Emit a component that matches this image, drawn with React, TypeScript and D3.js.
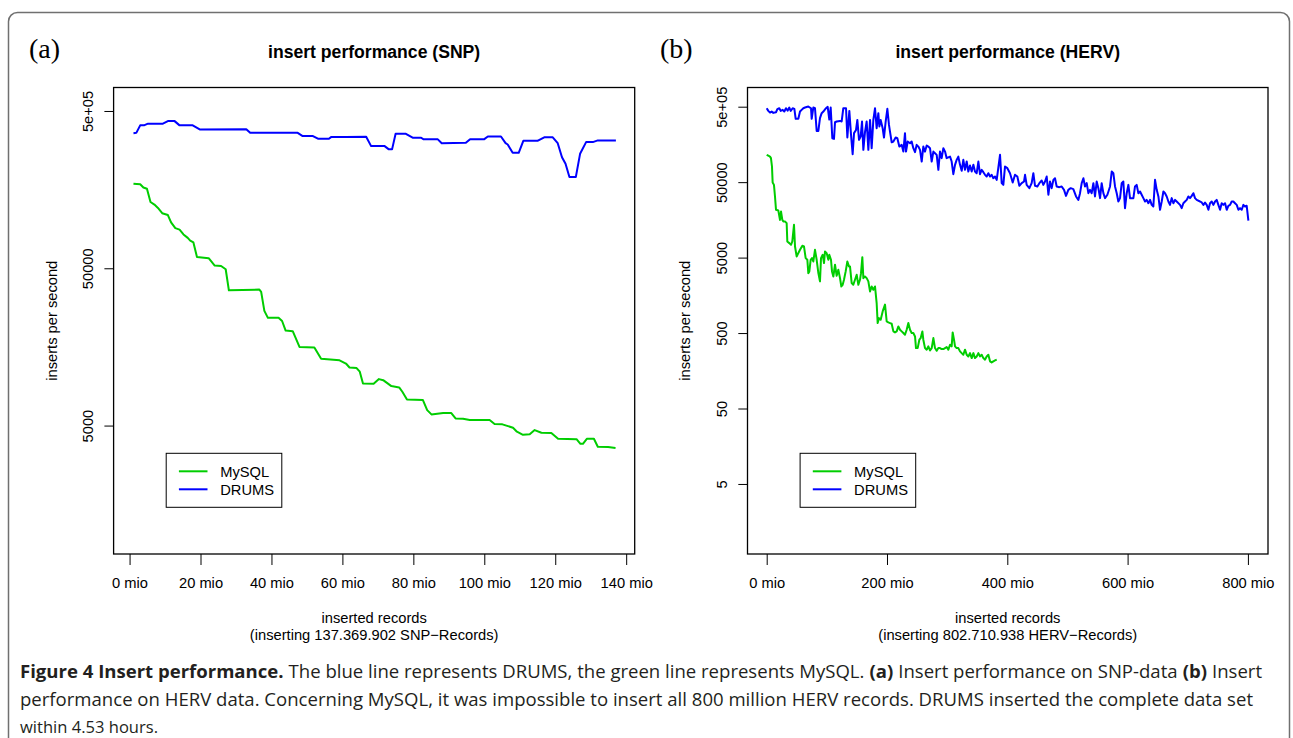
import * as React from "react";
import * as d3 from "d3";

// ---- data ----
const seriesNames = ["MySQL", "DRUMS"];
const seriesColors = ["#00cd00", "#0000ff"];

const snpTicksX = [0, 20, 40, 60, 80, 100, 120, 140];
const hervTicksX = [0, 200, 400, 600, 800];
const snpTicksY = [5000, 50000, 500000];
const hervTicksY = [5, 50, 500, 5000, 50000, 500000];

// [million records inserted, inserts per second]
const snpMysql: [number, number][] = [
  [1.1, 172500], [3, 171000], [3.9, 163000], [4.9, 160000], [5.9, 132000], [7, 127000],
  [8, 121000], [9.2, 112000], [10.8, 109000], [11.7, 98000], [12.9, 90000], [14.1, 88000],
  [15.2, 82000], [16.4, 78000], [17.1, 75000], [18, 73000], [19, 59000], [22.3, 58000],
  [24, 52000], [25.8, 51700], [27.1, 49300], [28, 36200], [36.6, 36600], [37.1, 35400],
  [38, 26800], [39, 24200], [42, 24200], [43, 23100], [44, 20100], [46, 19900],
  [47.9, 15800], [52.1, 15700], [54, 13300], [59.2, 13000], [61, 12400], [62, 11700],
  [64, 11600], [64.9, 11000], [65.8, 9270], [68.8, 9210], [70.3, 9870], [71.5, 9720],
  [73.8, 8910], [76, 8740], [76.9, 8200], [78.2, 7330], [82.7, 7260], [83.9, 6270],
  [85.1, 5890], [88.4, 6000], [90.7, 6000], [91.9, 5550], [94, 5520], [95.9, 5420],
  [101.5, 5420], [102.9, 5110], [105.1, 5090], [108.1, 4840], [109.2, 4570], [110.9, 4370],
  [112.8, 4400], [114.2, 4680], [116.1, 4500], [118.9, 4480], [120.8, 4120], [126, 4100],
  [127.1, 3830], [127.8, 3830], [128.9, 4120], [130.9, 4120], [132, 3670], [134.9, 3650],
  [137, 3600],
];

const snpDrums: [number, number][] = [
  [1.1, 361000], [1.9, 363000], [3, 405000], [4.2, 406000], [5.2, 415000], [9.4, 415000],
  [10.8, 431000], [12.7, 431000], [14.1, 405000], [17.8, 405000], [19.9, 381000], [32.9, 383000],
  [34, 363000], [47.4, 363000], [48.8, 346000], [51.7, 346000], [53.1, 333000], [56.2, 333000],
  [56.8, 341000], [61, 341000], [66.7, 343000], [68.1, 299000], [71.9, 299000], [73.1, 285000],
  [74, 285000], [75, 358000], [77.9, 358000], [79.8, 338000], [82.2, 338000], [82.9, 330000],
  [86.9, 330000], [88, 312000], [94.8, 314000], [96, 331000], [100, 331000], [101, 344000],
  [104.7, 344000], [106, 312000], [106.6, 306000], [108, 271000], [109.7, 271000], [111, 323000],
  [115, 323000], [116.9, 340000], [119.3, 340000], [120.7, 312000], [121.9, 254000], [122.9, 231000],
  [124, 190000], [125.8, 190000], [127, 267000], [128.7, 317000], [130.6, 317000], [132, 325000],
  [137.1, 325000],
];

const hervMysql: [number, number][] = [
  [0, 115000], [2.7, 112000], [5.5, 109000], [7.1, 104000], [8.8, 80600], [9.9, 49400],
  [12.1, 46000], [13.8, 32300], [15.5, 21500], [19.3, 21100], [22.1, 15800], [23.8, 20400],
  [26, 15800], [27.7, 15100], [30.4, 15100], [33.2, 14300], [34.3, 8180], [37.6, 7780],
  [40.4, 7390], [42.6, 8180], [45.4, 13600], [47.1, 7020], [49.8, 5180], [55.4, 6340],
  [59.3, 7170], [62, 7020], [64.8, 4920], [67.6, 4680], [69.2, 3110], [70.9, 3280],
  [73.1, 4680], [75.3, 4920], [77.5, 4440], [80.3, 6340], [83.1, 4680], [85.9, 3110],
  [88.6, 2420], [90.3, 4920], [93.1, 5450], [95.3, 4230], [96.9, 6030], [99.7, 5730],
  [102.5, 4680], [104.1, 5450], [106.9, 4680], [108.6, 3280], [110.8, 2810], [113.6, 4020],
  [116.3, 2870], [119.1, 3450], [121.9, 2670], [124.1, 2070], [126.3, 2180], [128.5, 2540],
  [131.3, 3280], [134.1, 4440], [136.8, 3820], [138.5, 3820], [141.3, 2300], [144, 2180],
  [146.8, 2540], [149.6, 2960], [152.4, 2180], [155.1, 2540], [156.8, 3110], [159, 5070],
  [160.7, 2670], [163.4, 2810], [166.2, 2670], [169, 2420], [171.8, 1780], [174.5, 2070],
  [177.3, 1870], [180.1, 2070], [182.8, 1250], [184.5, 678], [186.7, 789], [189.5, 750],
  [192.8, 967], [196.7, 1190], [199.5, 713], [202.2, 692], [205, 678], [207.8, 664],
  [210.6, 526], [213.3, 510], [216.1, 526], [218.9, 612], [221.6, 553], [224.4, 526],
  [227.2, 500], [229.9, 475], [232.7, 553], [235.5, 678], [238.3, 553], [241, 500],
  [243.8, 500], [246.6, 451], [248.2, 316], [251, 316], [253.8, 408], [256, 429],
  [258.8, 526], [260.4, 408], [263.2, 316], [266, 301], [268.7, 333], [271.5, 294],
  [274.3, 316], [277.1, 429], [279.8, 316], [282.6, 291], [285.4, 316], [288.1, 316],
  [290.9, 307], [293.7, 307], [299.2, 326], [302, 301], [304.8, 350], [307.5, 333],
  [309.2, 510], [311.4, 408], [313.1, 333], [315.8, 316], [318.6, 316], [321.4, 286],
  [324.2, 271], [326.9, 258], [329.7, 301], [332.5, 258], [335.2, 245], [338, 271],
  [340.8, 233], [343.6, 271], [346.3, 233], [349.1, 245], [351.9, 271], [354.6, 245],
  [357.4, 258], [360.2, 233], [363, 222], [365.7, 245], [368.5, 258], [371.3, 211],
  [374, 204], [376.8, 211], [379.6, 217], [382.4, 222],
];

const hervDrums: [number, number][] = [
  [0, 477000], [2.7, 440000], [5.5, 418000], [8.3, 431000], [11, 414000], [15.5, 422000],
  [17.7, 463000], [21, 477000], [23.2, 440000], [26.6, 454000], [29.3, 431000], [32.1, 477000],
  [34.9, 444000], [37.6, 487000], [39.9, 440000], [43.2, 477000], [46, 468000], [48.2, 345000],
  [52.6, 345000], [55.4, 431000], [58.1, 454000], [60.9, 477000], [63.7, 487000], [69.2, 502000],
  [73.7, 477000], [74.8, 345000], [77.5, 487000], [80.3, 477000], [83.1, 239000], [85.9, 239000],
  [88.6, 352000], [91.4, 410000], [94.2, 431000], [98.6, 477000], [101.4, 497000], [104.1, 338000],
  [106.4, 487000], [109.1, 191000], [111.9, 187000], [113.6, 311000], [116.3, 318000], [121.9, 324000],
  [124.6, 318000], [127.4, 477000], [131.9, 477000], [134.1, 195000], [137.4, 440000], [140.2, 212000],
  [142.9, 117000], [145.2, 223000], [148.5, 246000], [150.7, 334000], [153.5, 182000], [156.2, 201000],
  [158.5, 318000], [160.7, 134000], [163.4, 230000], [166.2, 318000], [169, 134000], [171.8, 334000],
  [174.5, 141000], [177.3, 334000], [180.1, 477000], [182.8, 259000], [185.6, 410000], [187.3, 273000],
  [189.5, 334000], [192.8, 259000], [195, 195000], [197.8, 318000], [200.6, 468000], [203.3, 287000],
  [205, 234000], [207.8, 169000], [210.6, 173000], [214.4, 195000], [217.2, 191000], [220.5, 148000],
  [224.4, 156000], [227.2, 127000], [229.9, 223000], [231.6, 127000], [234.4, 173000], [238.3, 164000],
  [241, 173000], [243.8, 141000], [246.6, 125000], [249.3, 156000], [252.1, 148000], [254.9, 134000],
  [257.7, 93800], [260.4, 148000], [263.2, 127000], [266, 153000], [268.7, 148000], [271.5, 141000],
  [274.3, 93800], [277.1, 127000], [279.8, 121000], [282.6, 115000], [285.4, 72800], [288.1, 127000],
  [290.9, 104000], [293.7, 141000], [296.5, 127000], [299.2, 104000], [304.8, 109000], [307.5, 93800],
  [310.3, 63800], [313.1, 84800], [315.8, 98700], [318.6, 109000], [321.4, 84800], [324.2, 70600],
  [326.9, 98700], [329.7, 72800], [332.5, 93800], [335.2, 69200], [338, 83100], [340.8, 69200],
  [343.6, 84800], [346.3, 69200], [349.1, 65700], [351.9, 93800], [354.6, 63800], [357.4, 72800],
  [360.2, 67800], [363, 62500], [365.7, 59400], [368.5, 65700], [371.3, 59400], [374, 62500],
  [376.8, 56400], [379.6, 59400], [382.4, 53600], [387.9, 115000], [390.7, 48500], [393.4, 46000],
  [396.2, 80600], [400.1, 76600], [404.5, 65700], [409, 49400], [412.8, 62500], [416.7, 59400],
  [420, 44700], [423.9, 48500], [427.8, 51000], [429.5, 62500], [432.2, 46000], [436.7, 41600],
  [440.5, 48500], [443.3, 65700], [446.1, 44700], [450, 43800], [453.3, 48500], [457.2, 52600],
  [459.9, 46000], [462.7, 51000], [465.5, 59400], [468.3, 34000], [471, 51000], [473.8, 41600],
  [476.6, 53600], [479.3, 56400], [482.1, 43800], [486.5, 42900], [490.4, 43800], [494.3, 39500],
  [497.6, 32900], [501.5, 39500], [505.4, 41600], [509.8, 40400], [514.3, 32300], [518.1, 29100],
  [520.9, 35700], [523.7, 48500], [526.5, 56400], [529.2, 43800], [532, 48500], [534.8, 35700],
  [537.5, 39500], [540.3, 35700], [543.1, 48500], [545.8, 32300], [548.6, 51000], [551.4, 41600],
  [554.2, 30700], [556.9, 48500], [559.7, 35700], [562.5, 30700], [566.4, 34000], [570.8, 43800],
  [573.6, 69200], [576.3, 65700], [579.1, 43800], [581.9, 35700], [584.6, 27700], [587.4, 30700],
  [590.2, 48500], [592.9, 51000], [595.7, 22600], [598.5, 35700], [601.3, 46000], [604, 30700],
  [609.6, 30700], [612.3, 43800], [615.1, 46000], [617.9, 35700], [620.7, 37600], [623.4, 34000],
  [626.2, 30700], [629, 27700], [631.7, 29100], [634.5, 26300], [637.3, 29100], [640.1, 25000],
  [642.8, 23800], [645.6, 53600], [648.4, 39500], [651.2, 32300], [653.9, 21500], [656.7, 27700],
  [659.5, 37600], [662.2, 35700], [665, 32300], [667.8, 27700], [670.5, 25000], [673.3, 30700],
  [676.1, 26300], [678.9, 29100], [681.6, 27700], [687.2, 25000], [689.9, 22600], [692.7, 26300],
  [695.5, 27700], [698.3, 29100], [701, 32300], [703.8, 30700], [706.6, 32900], [709.3, 35700],
  [712.1, 30700], [714.9, 29100], [720.4, 27700], [723.2, 26900], [726, 25000], [728.7, 26900],
  [731.5, 25000], [734.3, 21500], [737, 26300], [739.8, 27700], [742.6, 25000], [745.4, 27700],
  [748.1, 29100], [750.9, 25000], [753.7, 21500], [756.4, 26300], [759.2, 25000], [762, 26300],
  [764.8, 21500], [767.5, 24300], [770.3, 25000], [773.1, 27700], [775.8, 27700], [778.6, 26300],
  [781.4, 25000], [784.2, 21500], [786.9, 22600], [789.7, 21500], [792.5, 25000], [795.2, 23800],
  [798, 24300], [800.8, 15500],
];

const FONT = "'Liberation Sans', Arimo, Helvetica, Arial, sans-serif";
const CAPTION_FONT = "'Open Sans', 'Noto Sans', sans-serif";

const panels = [
  {
    tag: "(a)", tagX: 29, title: "insert performance (SNP)",
    records: "(inserting 137.369.902 SNP\u2212Records)",
    x0: 113.6, x1: 634.7, xDomain: [-4.5, 142.4], xTicks: snpTicksX,
    yDomain: [763, 705000], yTicks: snpTicksY, ylabX: 56.5,
    series: [snpMysql, snpDrums],
  },
  {
    tag: "(b)", tagX: 660, title: "insert performance (HERV)",
    records: "(inserting 802.710.938 HERV\u2212Records)",
    x0: 747.5, x1: 1268, xDomain: [-31.9, 833.4], xTicks: hervTicksX,
    yDomain: [0.59, 898000], yTicks: hervTicksY, ylabX: 689.5,
    series: [hervMysql, hervDrums],
  },
];

// caption runs (bold / regular), one list per printed line
const captionLines = [
  [
    { b: true, t: "Figure 4 Insert performance." },
    { b: false, t: "The blue line represents DRUMS, the green line represents MySQL." },
    { b: true, t: "(a)" },
    { b: false, t: "Insert performance on SNP-data" },
    { b: true, t: "(b)" },
    { b: false, t: "Insert" },
  ],
  [{ b: false, t: "performance on HERV data. Concerning MySQL, it was impossible to insert all 800 million HERV records. DRUMS inserted the complete data set" }],
  [{ b: false, t: "within 4.53 hours." }],
];
const captionWidths = [1242, 1233, 138];

const yTickFormat = (v: number) => (v >= 500000 ? "5e+05" : String(v));

const App: React.FunctionComponent = () => {
  const ref = React.useRef<SVGSVGElement>(null);

  React.useEffect(() => {
    const svg = d3.select(ref.current);
    svg.selectAll("*").remove();
    const y0 = 87.5;
    const y1 = 554;

    // outer frame
    svg.append("rect")
      .attr("x", 8.5).attr("y", 12.5).attr("width", 1281).attr("height", 800)
      .attr("rx", 9).attr("fill", "none").attr("stroke", "#707070").attr("stroke-width", 1.5);

    panels.forEach(p => {
      const x = d3.scaleLinear().domain(p.xDomain).range([p.x0, p.x1]);
      const y = d3.scaleLog().domain(p.yDomain).range([y1, y0]);
      const g = svg.append("g");
      const cx = (p.x0 + p.x1) / 2;

      const line = d3.line<[number, number]>().x(d => x(d[0])).y(d => y(d[1]));
      p.series.forEach((s, i) => {
        g.append("path")
          .attr("d", line(s))
          .attr("fill", "none")
          .attr("stroke", seriesColors[i])
          .attr("stroke-width", 2)
          .attr("stroke-linejoin", "round");
      });

      g.append("rect")
        .attr("x", p.x0).attr("y", y0).attr("width", p.x1 - p.x0).attr("height", y1 - y0)
        .attr("fill", "none").attr("stroke", "#000").attr("stroke-width", 1.3);

      const xa = g.append("g")
        .attr("transform", `translate(0,${y1})`)
        .attr("color", "#000")
        .call(d3.axisBottom(x).tickValues(p.xTicks).tickSize(11).tickFormat(d => `${d} mio`));
      xa.select(".domain").remove();
      xa.selectAll("text")
        .attr("y", 34).attr("dy", null)
        .attr("font-family", FONT).attr("font-size", 14.7);

      const ya = g.append("g")
        .attr("transform", `translate(${p.x0},0)`)
        .attr("color", "#000")
        .call(d3.axisLeft(y).tickValues(p.yTicks).tickSize(9.2).tickFormat(d => yTickFormat(+d)));
      ya.select(".domain").remove();
      ya.selectAll("text")
        .attr("x", null).attr("dy", null)
        .attr("transform", "translate(-20.2,0) rotate(-90)")
        .attr("text-anchor", "middle")
        .attr("font-family", FONT).attr("font-size", 14.7);

      // labels
      svg.append("text").attr("x", p.tagX).attr("y", 58)
        .attr("font-family", "'Liberation Serif', 'DejaVu Serif', serif").attr("font-size", 28)
        .text(p.tag);
      svg.append("text").attr("x", cx).attr("y", 58).attr("text-anchor", "middle")
        .attr("font-family", FONT).attr("font-size", 17.6).attr("font-weight", "bold")
        .text(p.title);
      svg.append("text").attr("x", cx).attr("y", 623).attr("text-anchor", "middle")
        .attr("font-family", FONT).attr("font-size", 14.7).text("inserted records");
      svg.append("text").attr("x", cx).attr("y", 640).attr("text-anchor", "middle")
        .attr("font-family", FONT).attr("font-size", 14.7).text(p.records);
      svg.append("text")
        .attr("transform", `translate(${p.ylabX},${(y0 + y1) / 2}) rotate(-90)`)
        .attr("text-anchor", "middle")
        .attr("font-family", FONT).attr("font-size", 14.7).text("inserts per second");

      // legend
      const lx = p.x0 + 52.6;
      const lg = svg.append("g");
      lg.append("rect").attr("x", lx).attr("y", 453.3).attr("width", 115.6).attr("height", 54)
        .attr("fill", "#fff").attr("stroke", "#000").attr("stroke-width", 1);
      seriesNames.forEach((name, i) => {
        const ly = 471.3 + i * 18;
        lg.append("line").attr("x1", lx + 12.7).attr("x2", lx + 41.3).attr("y1", ly).attr("y2", ly)
          .attr("stroke", seriesColors[i]).attr("stroke-width", 2);
        lg.append("text").attr("x", lx + 54).attr("y", ly + 5.3)
          .attr("font-family", FONT).attr("font-size", 14.7).text(name);
      });
    });

    // caption: each run is its own text element; the font is sized so that
    // the runs only ever get stretched (never squeezed) to fill the line
    const space = 5;
    captionLines.forEach((parts, i) => {
      const baseY = 678 + i * 27.5;
      const nodes = parts.map(part =>
        svg.append("text")
          .attr("y", baseY)
          .attr("font-family", CAPTION_FONT).attr("font-size", 19)
          .attr("font-weight", part.b ? "bold" : "normal")
          .attr("fill", "#231f20")
          .text(part.t)
      );
      let natural = nodes.map(n => (n.node() as SVGTextElement).getComputedTextLength());
      const total = d3.sum(natural) + space * (parts.length - 1);
      if (total > captionWidths[i]) {
        const fs = Math.floor((19 * captionWidths[i] / total) * 10) / 10 - 0.1;
        nodes.forEach(n => n.attr("font-size", fs));
        natural = nodes.map(n => (n.node() as SVGTextElement).getComputedTextLength());
      }
      const k = captionWidths[i] / (d3.sum(natural) + space * (parts.length - 1));
      let cx = 20;
      nodes.forEach((n, j) => {
        const w = natural[j] * k;
        n.attr("x", cx).attr("textLength", w).attr("lengthAdjust", "spacingAndGlyphs");
        cx += w + space * k;
      });
    });
  }, []);

  return (
    <svg
      ref={ref}
      width={1293}
      height={738}
      style={{ position: "absolute", left: 0, top: 0, background: "#fff" }}
    />
  );
};

export default App;
